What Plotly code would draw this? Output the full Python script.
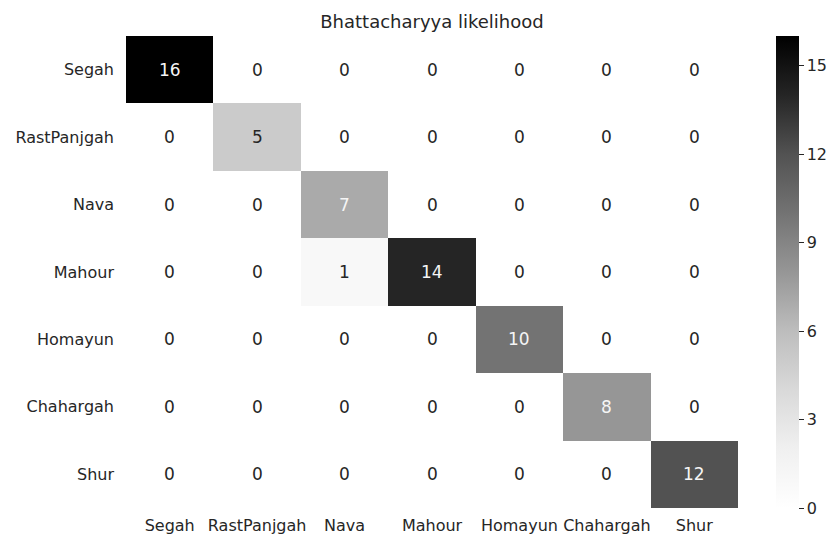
import plotly.graph_objects as go

# Dastgah labels (rows = true, columns = predicted)
labels = ["Segah", "RastPanjgah", "Nava", "Mahour", "Homayun", "Chahargah", "Shur"]

# Confusion counts, one row per true class
counts = [
    [16, 0, 0, 0, 0, 0, 0],
    [0, 5, 0, 0, 0, 0, 0],
    [0, 0, 7, 0, 0, 0, 0],
    [0, 0, 1, 14, 0, 0, 0],
    [0, 0, 0, 0, 10, 0, 0],
    [0, 0, 0, 0, 0, 8, 0],
    [0, 0, 0, 0, 0, 0, 12],
]

colorbar_ticks = [0, 3, 6, 9, 12, 15]
title_text = "Bhattacharyya likelihood"

# Matplotlib-style "Greys" ramp (white -> black)
greys = ["#ffffff", "#f0f0f0", "#d9d9d9", "#bdbdbd", "#969696",
         "#737373", "#525252", "#252525", "#000000"]
colorscale = [[i / (len(greys) - 1), c] for i, c in enumerate(greys)]

zmin, zmax = 0, max(max(r) for r in counts)
TXT = "#262626"

fig = go.Figure(
    go.Heatmap(
        z=counts,
        x=labels,
        y=labels,
        zmin=zmin,
        zmax=zmax,
        colorscale=colorscale,
        hoverinfo="skip",
        colorbar=dict(
            x=1.062,
            xanchor="left",
            xpad=0,
            y=0.5,
            yanchor="middle",
            ypad=0,
            len=1.0,
            lenmode="fraction",
            thickness=23,
            outlinewidth=0,
            tickvals=colorbar_ticks,
            ticks="outside",
            ticklen=5,
            tickwidth=1,
            tickcolor=TXT,
            tickfont=dict(family="DejaVu Sans", size=16, color=TXT),
        ),
    )
)

# Cell value labels, light text on darker cells
for i, row in enumerate(counts):
    for j, v in enumerate(row):
        frac = (v - zmin) / (zmax - zmin)
        fig.add_annotation(
            x=labels[j],
            y=labels[i],
            text=str(v),
            showarrow=False,
            font=dict(family="DejaVu Sans", size=17,
                      color="#f5f5f5" if frac >= 0.43 else TXT),
        )

fig.update_layout(
    width=834,
    height=536,
    margin=dict(l=126, r=96, t=36, b=28, autoexpand=False),
    paper_bgcolor="white",
    plot_bgcolor="white",
    font=dict(family="DejaVu Sans", color=TXT),
    title=dict(
        text=title_text,
        x=(126 + 738) / 2 / 834,
        xanchor="center",
        y=1 - 22 / 536,
        yanchor="middle",
        font=dict(family="DejaVu Sans", size=18, color=TXT),
    ),
    xaxis=dict(
        showgrid=False,
        zeroline=False,
        showline=False,
        ticks="",
        automargin=False,
        ticklabelstandoff=6,
        tickfont=dict(family="DejaVu Sans", size=16, color=TXT),
    ),
    yaxis=dict(
        autorange="reversed",
        showgrid=False,
        zeroline=False,
        showline=False,
        ticks="",
        automargin=False,
        ticklabelstandoff=11,
        tickfont=dict(family="DejaVu Sans", size=16, color=TXT),
    ),
)

fig.write_html("out.html")
